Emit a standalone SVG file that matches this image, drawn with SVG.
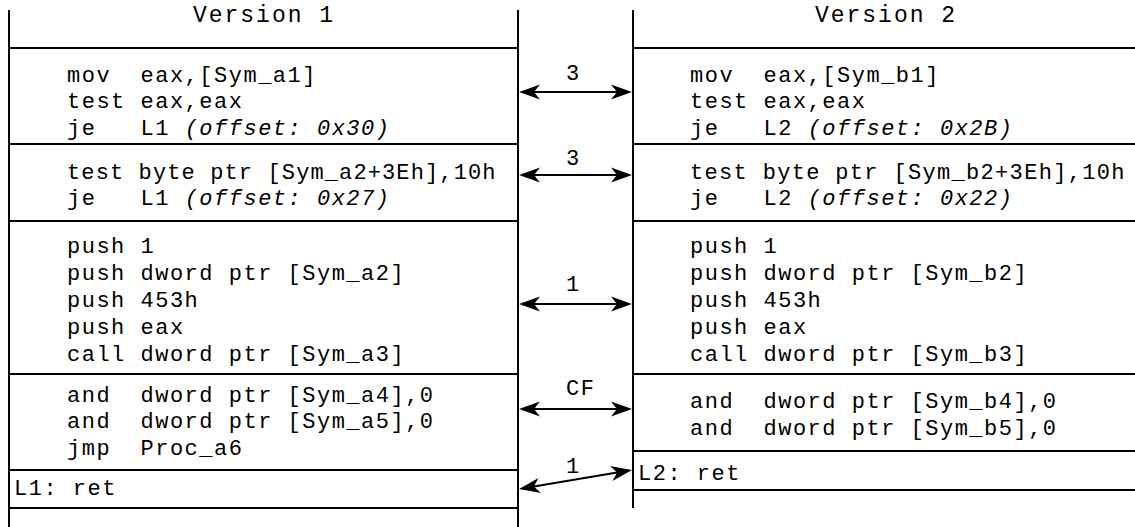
<svg xmlns="http://www.w3.org/2000/svg" width="1135" height="527" viewBox="0 0 1135 527">
<style>
.ln{stroke:#000;stroke-width:2;fill:none}
.code{font-family:"Liberation Mono","Courier New",monospace;font-size:22px;letter-spacing:1.5px;fill:#000;white-space:pre}
.it{font-style:italic}
.hdr{font-family:"Liberation Mono","Courier New",monospace;font-size:23px;letter-spacing:2px;fill:#000;text-anchor:middle;white-space:pre}
.lbl{font-family:"Liberation Mono","Courier New",monospace;font-size:22px;letter-spacing:1.5px;fill:#000}
.arr{stroke:#000;stroke-width:2.2;fill:none;marker-start:url(#ah);marker-end:url(#ah)}
</style>
<defs>
<marker id="ah" viewBox="-24 -10 26 20" refX="-3" refY="0" markerWidth="26" markerHeight="20" markerUnits="userSpaceOnUse" orient="auto-start-reverse">
<path d="M0,0 L-21,-7.5 L-15,0 L-21,7.5 Z" fill="#000"/>
</marker>
</defs>
<rect width="1135" height="527" fill="#fff"/>

<g id="frame">
<line class="ln" x1="9" y1="10" x2="9" y2="527"/>
<line class="ln" x1="518" y1="10" x2="518" y2="527"/>
<line class="ln" x1="633" y1="10" x2="633" y2="508"/>
</g>

<g id="v1-header">
<text class="hdr" x="264" y="22">Version 1</text>
<line class="ln" x1="9" y1="48" x2="518" y2="48"/>
</g>
<g id="v1-block1">
<text class="code" x="67" y="82">mov  eax,[Sym_a1]</text>
<text class="code" x="67" y="108">test eax,eax</text>
<text class="code" x="67" y="135">je   L1 <tspan class="it">(offset: 0x30)</tspan></text>
<line class="ln" x1="9" y1="144" x2="518" y2="144"/>
</g>
<g id="v1-block2">
<text class="code" x="67" y="179" textLength="430" lengthAdjust="spacing">test byte ptr [Sym_a2+3Eh],10h</text>
<text class="code" x="67" y="205">je   L1 <tspan class="it">(offset: 0x27)</tspan></text>
<line class="ln" x1="9" y1="221" x2="518" y2="221"/>
</g>
<g id="v1-block3">
<text class="code" x="67" y="253">push 1</text>
<text class="code" x="67" y="280">push dword ptr [Sym_a2]</text>
<text class="code" x="67" y="307">push 453h</text>
<text class="code" x="67" y="334">push eax</text>
<text class="code" x="67" y="361">call dword ptr [Sym_a3]</text>
<line class="ln" x1="9" y1="374" x2="518" y2="374"/>
</g>
<g id="v1-block4">
<text class="code" x="67" y="402">and  dword ptr [Sym_a4],0</text>
<text class="code" x="67" y="428">and  dword ptr [Sym_a5],0</text>
<text class="code" x="67" y="455">jmp  Proc_a6</text>
<line class="ln" x1="9" y1="470" x2="518" y2="470"/>
</g>
<g id="v1-block5">
<text class="code" x="14" y="495">L1: ret</text>
<line class="ln" x1="9" y1="508" x2="518" y2="508"/>
</g>

<g id="v2-header">
<text class="hdr" x="886" y="22">Version 2</text>
<line class="ln" x1="633" y1="48" x2="1135" y2="48"/>
</g>
<g id="v2-block1">
<text class="code" x="690" y="82">mov  eax,[Sym_b1]</text>
<text class="code" x="690" y="108">test eax,eax</text>
<text class="code" x="690" y="135">je   L2 <tspan class="it">(offset: 0x2B)</tspan></text>
<line class="ln" x1="633" y1="144" x2="1135" y2="144"/>
</g>
<g id="v2-block2">
<text class="code" x="690" y="179" textLength="436" lengthAdjust="spacing">test byte ptr [Sym_b2+3Eh],10h</text>
<text class="code" x="690" y="205">je   L2 <tspan class="it">(offset: 0x22)</tspan></text>
<line class="ln" x1="633" y1="221" x2="1135" y2="221"/>
</g>
<g id="v2-block3">
<text class="code" x="690" y="253">push 1</text>
<text class="code" x="690" y="280">push dword ptr [Sym_b2]</text>
<text class="code" x="690" y="307">push 453h</text>
<text class="code" x="690" y="334">push eax</text>
<text class="code" x="690" y="361">call dword ptr [Sym_b3]</text>
<line class="ln" x1="633" y1="374" x2="1135" y2="374"/>
</g>
<g id="v2-block4">
<text class="code" x="690" y="408">and  dword ptr [Sym_b4],0</text>
<text class="code" x="690" y="435">and  dword ptr [Sym_b5],0</text>
<line class="ln" x1="633" y1="451" x2="1135" y2="451"/>
</g>
<g id="v2-block5">
<text class="code" x="638" y="480">L2: ret</text>
<line class="ln" x1="633" y1="490" x2="1135" y2="490"/>
</g>

<g id="connectors">
<line class="arr" x1="522" y1="92" x2="629" y2="92"/>
<text class="lbl" x="566" y="80">3</text>
<line class="arr" x1="522" y1="175" x2="629" y2="175"/>
<text class="lbl" x="566" y="165">3</text>
<line class="arr" x1="522" y1="304" x2="629" y2="304"/>
<text class="lbl" x="566" y="291">1</text>
<line class="arr" x1="522" y1="409" x2="629" y2="409"/>
<text class="lbl" x="566" y="395">CF</text>
<line class="arr" x1="522" y1="488.5" x2="629" y2="470.5"/>
<text class="lbl" x="566" y="473">1</text>
</g>
</svg>
